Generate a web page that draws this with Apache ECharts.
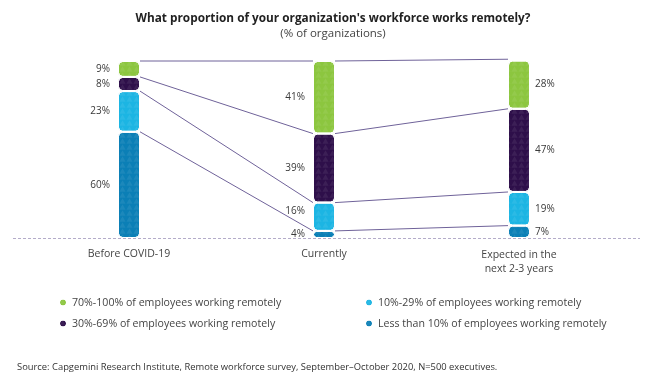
<!DOCTYPE html>
<html><head><meta charset="utf-8">
<script src="https://cdn.jsdelivr.net/npm/echarts@6/dist/echarts.min.js"></script>
<style>html,body{margin:0;padding:0;background:#fff}#c{width:653px;height:372px}</style>
</head><body><div id="c"></div>
<script>
const categories = ['Before COVID-19', 'Currently', 'Expected in the\nnext 2-3 years'];
const seriesNames = ['Less than 10% of employees working remotely', '10%-29% of employees working remotely', '30%-69% of employees working remotely', '70%-100% of employees working remotely'];
const lessThan10 = [60, 4, 7];
const from10to29 = [23, 16, 19];
const from30to69 = [8, 39, 47];
const from70to100 = [9, 41, 28];
const colors = ['#0b7fb6', '#1cb5e3', '#2e0f4a', '#8cc63f'];

const values = [lessThan10, from10to29, from30to69, from70to100];
const FONT = 'Open Sans';
const BAR_W = 22;

// cumulative tops of each segment for connectors
const connectors = [];
for (let s = 0; s < values.length; s++) {
  for (let c = 0; c < categories.length - 1; c++) {
    let t1 = 0, t2 = 0;
    for (let k = 0; k <= s; k++) { t1 += values[k][c]; t2 += values[k][c + 1]; }
    connectors.push([c, t1, c + 1, t2]);
  }
}

const chart = echarts.init(document.getElementById('c'), null, {renderer: 'canvas'});
const barSeries = values.map((arr, i) => ({
  name: seriesNames[i],
  type: 'bar',
  stack: 'a',
  barWidth: BAR_W,
  data: arr.map((v, ci) => ({
    value: v,
    label: {position: ci === 2 ? 'right' : 'left', distance: ci === 2 ? 5 : 8,
      offset: (i === 1 && ci === 1) ? [0, -6] : [0, 0]}
  })),
  itemStyle: {color: colors[i], borderRadius: 4, borderColor: '#fff', borderWidth: 1,
    decal: {symbol: 'triangle', symbolSize: 0.9, color: 'rgba(255,255,255,0.07)', dashArrayX: [7, 0], dashArrayY: [6, 0], rotation: 0}},
  label: {show: true, formatter: '{c}%', color: '#3a3a3a', fontFamily: FONT, fontSize: 10},
  z: 3
}));

chart.setOption({
  animation: false,
  title: [{
    text: "What proportion of your organization's workforce works remotely?",
    subtext: '(% of organizations)',
    left: 328, textAlign: 'center', top: 8, itemGap: 3,
    textStyle: {fontFamily: FONT, fontWeight: 'bold', fontSize: 11.8, color: '#222'},
    subtextStyle: {fontFamily: FONT, fontSize: 11.5, color: '#444'}
  }, {
    text: 'Source: Capgemini Research Institute, Remote workforce survey, September\u2013October 2020, N=500 executives.',
    left: 12, top: 358,
    textStyle: {fontFamily: FONT, fontWeight: 'normal', fontSize: 9.4, color: '#333'}
  }],
  legend: [{
    data: [seriesNames[3], seriesNames[2]], orient: 'vertical', left: 53, top: 292,
    icon: 'circle', itemWidth: 8, itemHeight: 8, itemGap: 10,
    textStyle: {fontFamily: FONT, fontSize: 10.6, color: '#444'}
  }, {
    data: [seriesNames[1], seriesNames[0]], orient: 'vertical', left: 359, top: 292,
    icon: 'circle', itemWidth: 8, itemHeight: 8, itemGap: 10,
    textStyle: {fontFamily: FONT, fontSize: 10.6, color: '#444'}
  }],
  grid: {left: 31.5, right: 36.5, top: 61, bottom: 134, containLabel: false},
  xAxis: {
    type: 'category', data: categories,
    axisLine: {show: false}, axisTick: {show: false},
    axisLabel: {fontFamily: FONT, fontSize: 10.5, color: '#444', margin: 9, lineHeight: 14,
      formatter: function (v) { return v.indexOf('\n') >= 0 ? '{m|' + v.replace('\n', '}\n{m|') + '}' : v; },
      rich: {m: {fontFamily: FONT, fontSize: 10.5, color: '#444', lineHeight: 14, padding: [2, 0, 0, 0]}}}
  },
  yAxis: {type: 'value', min: 0, max: 100, show: false},
  graphic: [{
    type: 'line', shape: {x1: 13, y1: 238.5, x2: 640, y2: 238.5},
    style: {stroke: '#b4acc9', lineWidth: 1, lineDash: [3, 2]}, z: 1
  }],
  series: [
    {
      type: 'custom',
      data: connectors,
      encode: {x: [0, 2], y: [1, 3]},
      z: 2,
      silent: true,
      renderItem: function (params, api) {
        const p1 = api.coord([api.value(0), api.value(1)]);
        const p2 = api.coord([api.value(2), api.value(3)]);
        return {
          type: 'line',
          shape: {x1: p1[0] + BAR_W / 2, y1: p1[1], x2: p2[0] - BAR_W / 2, y2: p2[1]},
          style: {stroke: '#6f6299', lineWidth: 1}
        };
      }
    }
  ].concat(barSeries)
});
</script>
</body></html>
